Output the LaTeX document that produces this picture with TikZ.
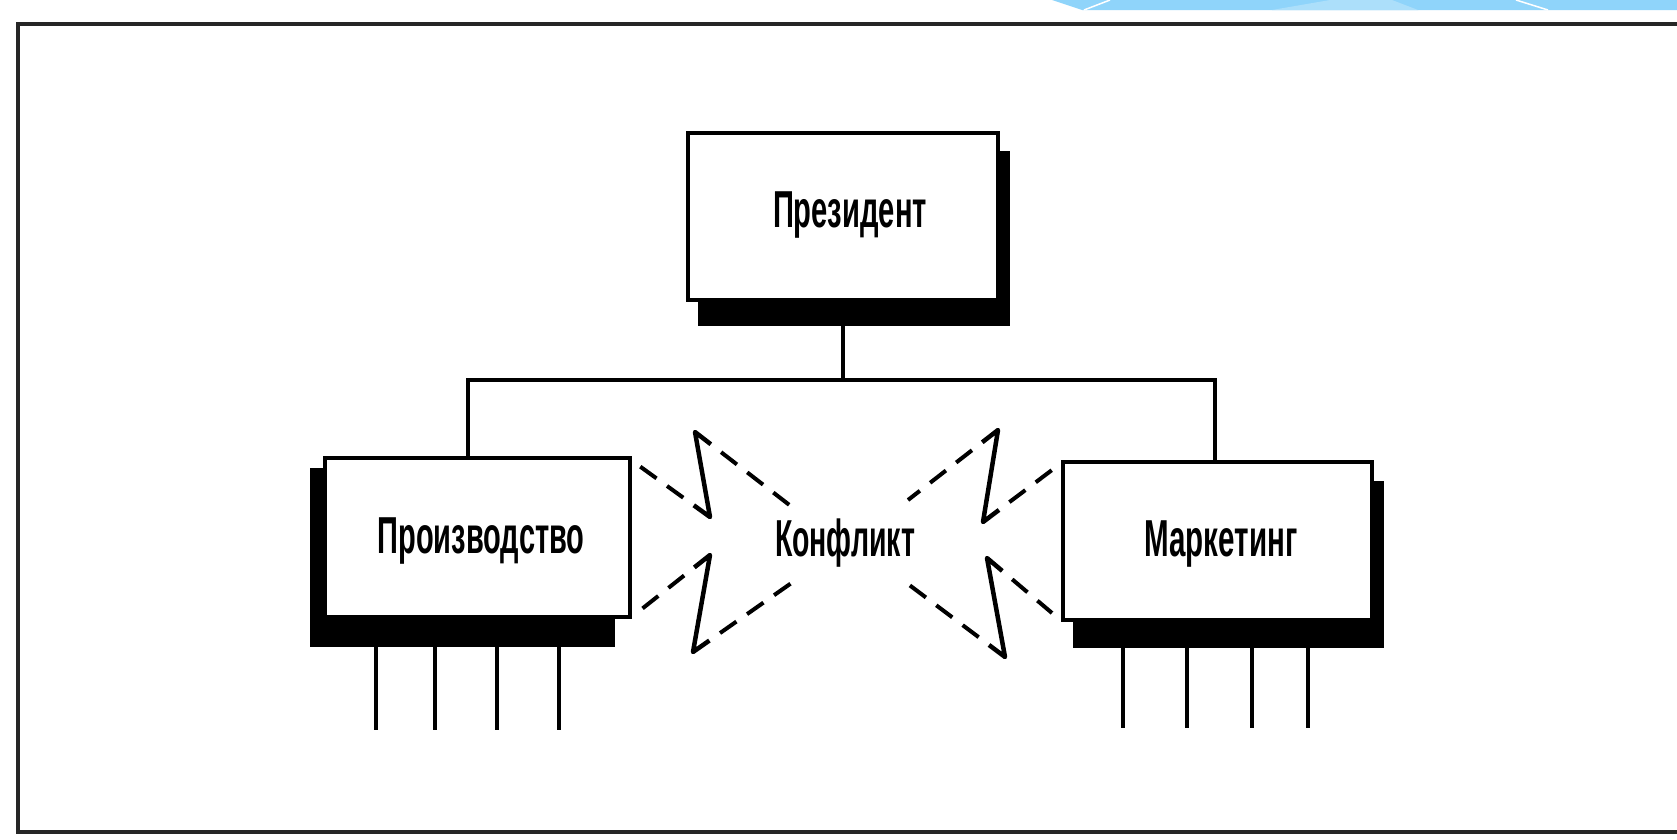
\documentclass[tikz,border=0pt]{standalone}
\usepackage{fontspec}
\setmainfont{Liberation Sans}
\usepackage{graphicx}
\usetikzlibrary{calc,backgrounds}
\definecolor{bandblue}{RGB}{143,212,250}
\definecolor{bandlight}{RGB}{172,223,250}
\newcommand\fitlabel[2]{\resizebox{#1}{\height}{\bfseries #2}}
\tikzset{
  orgbox/.style={draw=black, line width=4pt, fill=white, inner sep=0pt},
  boxshadow/.style={fill=black},
  link/.style={line width=4pt, draw=black},
  conflictline/.style={line width=4pt, dash pattern=on 20pt off 13pt},
  bolt/.style={line width=4.5pt, line join=round},
  lbl/.style={inner sep=0pt, font=\fontsize{52}{60}\selectfont},
  frameline/.style={line width=4.5pt, draw=black!85},
}
\begin{document}
\begin{tikzpicture}[x=1pt,y=-1pt]
\useasboundingbox (0,0) rectangle (1677,839);

% boxes
\node[orgbox, minimum width=310pt, minimum height=167pt] (pres) at (843,216.5) {};
\node[orgbox, minimum width=305pt, minimum height=159pt] (prod) at (477.5,537.5) {};
\node[orgbox, minimum width=309pt, minimum height=158pt] (mark) at (1217.5,541) {};

\begin{scope}[on background layer]
  \fill[white] (0,0) rectangle (1677,839);
  \fill[boxshadow] ($(pres.north west)+(12,20)$) rectangle ($(pres.south east)+(10,24)$);
  \fill[boxshadow] ($(prod.north west)+(-13,12)$) rectangle ($(prod.south east)+(-17,28)$);
  \fill[boxshadow] ($(mark.north west)+(12,21)$) rectangle ($(mark.south east)+(10,26)$);
\end{scope}

% top decoration band
\fill[bandblue] (1052,0) -- (1677,0) -- (1677,10) -- (1082,10) -- cycle;
\fill[bandlight] (1272,10) -- (1330,0) -- (1392,0) -- (1418,10) -- cycle;
\draw[white, line width=1.5pt] (1084,10) -- (1110,0);
\draw[white, line width=1.5pt] (1516,0) -- (1548,10);

% frame
\draw[frameline] (1677,24) -- (18,24) -- (18,832) -- (1677,832);

% labels
\node[lbl, anchor=base] (tpres) at (850,227) {\fitlabel{154pt}{Президент}};
\node[lbl, anchor=base] (tprod) at (481,553) {\fitlabel{207pt}{Производство}};
\node[lbl, anchor=base] (tmark) at (1221,556) {\fitlabel{153pt}{Маркетинг}};
\node[lbl, anchor=base] (tconf) at (845,556) {\fitlabel{140pt}{Конфликт}};

% hierarchy connectors
\coordinate (busL) at (468,380);
\coordinate (busR) at (1215,380);
\draw[link] (pres.south) -- (pres.south |- busL);
\draw[link] (busL |- prod.north) -- (busL) -- (busR) -- (busR |- mark.north);

% legs
\foreach \x [count=\i] in {376,435,497,559} {
  \coordinate (pl\i) at (\x,730);
  \draw[link] (pl\i |- prod.south) -- (pl\i);
}
\foreach \x [count=\i] in {1123,1187,1252,1308} {
  \coordinate (ml\i) at (\x,728);
  \draw[link] (ml\i |- mark.south) -- (ml\i);
}

% conflict lines with lightning breaks
\coordinate (A1) at (638,465); \coordinate (B1) at (710,517); \coordinate (C1) at (695,432); \coordinate (D1) at (792,507);
\coordinate (A2) at (638,612); \coordinate (B2) at (710,555); \coordinate (C2) at (693,652); \coordinate (D2) at (800,577);
\coordinate (A3) at (1052,470); \coordinate (B3) at (983,522); \coordinate (C3) at (998,430); \coordinate (D3) at (908,500);
\coordinate (A4) at (1052,613); \coordinate (B4) at (987,558); \coordinate (C4) at (1005,657); \coordinate (D4) at (900,578);
\foreach \k in {1,2,3,4} {
  \coordinate (Bp\k) at ($(B\k)!20pt!(A\k)$);
  \coordinate (Cp\k) at ($(C\k)!20pt!(D\k)$);
  \draw[conflictline, dash phase=20pt] (Bp\k) -- (A\k);
  \draw[bolt] (Bp\k) -- (B\k) -- (C\k) -- (Cp\k);
  \draw[conflictline, dash phase=20pt] (Cp\k) -- (D\k);
}
\end{tikzpicture}
\end{document}
